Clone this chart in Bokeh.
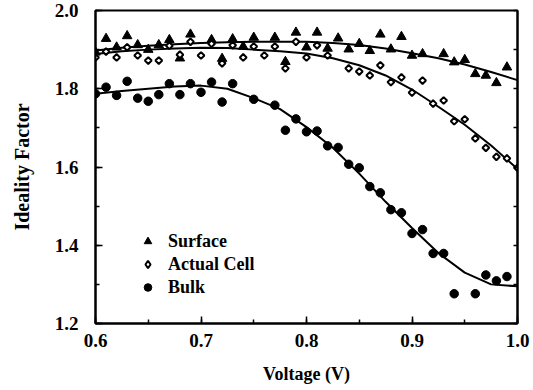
from bokeh.plotting import figure
from bokeh.models import (LinearAxis, Range1d, Legend, LegendItem,
                          SingleIntervalTicker, NumeralTickFormatter)
from bokeh.embed import file_html
from bokeh.resources import INLINE

# ---- data ----
surf_x = [0.600, 0.610, 0.620, 0.630, 0.640, 0.650, 0.660, 0.670, 0.680, 0.690,
          0.710, 0.720, 0.730, 0.740, 0.750, 0.770, 0.780, 0.790, 0.800, 0.810,
          0.820, 0.830, 0.840, 0.850, 0.860, 0.870, 0.880, 0.890, 0.900, 0.910,
          0.930, 0.940, 0.950, 0.960, 0.970, 0.980, 0.990]
surf_y = [1.893, 1.928, 1.906, 1.935, 1.912, 1.900, 1.912, 1.925, 1.878, 1.939,
          1.925, 1.877, 1.927, 1.908, 1.931, 1.931, 1.869, 1.944, 1.906, 1.944,
          1.903, 1.929, 1.901, 1.915, 1.897, 1.939, 1.901, 1.933, 1.885, 1.889,
          1.889, 1.868, 1.874, 1.838, 1.834, 1.815, 1.855]

act_x = [0.600, 0.610, 0.620, 0.630, 0.640, 0.650, 0.660, 0.670, 0.680, 0.690,
         0.700, 0.710, 0.720, 0.730, 0.740, 0.750, 0.760, 0.770, 0.780, 0.790,
         0.800, 0.810, 0.820, 0.840, 0.850, 0.860, 0.870, 0.880, 0.890, 0.900,
         0.910, 0.920, 0.930, 0.940, 0.950, 0.960, 0.970, 0.980, 0.990, 1.000]
act_y = [1.880, 1.895, 1.880, 1.906, 1.885, 1.872, 1.872, 1.910, 1.887, 1.920,
         1.885, 1.915, 1.865, 1.911, 1.880, 1.908, 1.885, 1.908, 1.852, 1.920,
         1.880, 1.911, 1.885, 1.852, 1.844, 1.834, 1.860, 1.817, 1.829, 1.790,
         1.821, 1.762, 1.770, 1.717, 1.722, 1.673, 1.649, 1.626, 1.622, 1.598]

bulk_x = [0.600, 0.610, 0.620, 0.630, 0.640, 0.650, 0.660, 0.670, 0.680, 0.690,
          0.700, 0.710, 0.720, 0.730, 0.750, 0.770, 0.780, 0.790, 0.800, 0.810,
          0.820, 0.830, 0.840, 0.850, 0.860, 0.870, 0.880, 0.890, 0.900, 0.910,
          0.920, 0.930, 0.940, 0.960, 0.970, 0.980, 0.990]
bulk_y = [1.787, 1.804, 1.783, 1.819, 1.776, 1.768, 1.785, 1.813, 1.785, 1.813,
          1.791, 1.817, 1.766, 1.813, 1.773, 1.758, 1.694, 1.723, 1.690, 1.692,
          1.654, 1.650, 1.607, 1.598, 1.550, 1.534, 1.491, 1.483, 1.430, 1.440,
          1.379, 1.379, 1.276, 1.276, 1.324, 1.309, 1.320]

fit_x = [0.600, 0.625, 0.650, 0.675, 0.700, 0.725, 0.750, 0.775, 0.800,
         0.825, 0.850, 0.875, 0.900, 0.925, 0.950, 0.975, 1.000]
surf_fit = [1.898, 1.905, 1.910, 1.914, 1.917, 1.919, 1.920, 1.920, 1.920,
            1.917, 1.912, 1.903, 1.891, 1.878, 1.862, 1.843, 1.822]
act_fit = [1.889, 1.896, 1.900, 1.903, 1.905, 1.904, 1.900, 1.896, 1.890,
           1.878, 1.860, 1.834, 1.798, 1.754, 1.708, 1.655, 1.595]
bulk_fit = [1.787, 1.794, 1.800, 1.806, 1.808, 1.800, 1.776, 1.748, 1.702,
            1.649, 1.583, 1.511, 1.444, 1.380, 1.330, 1.300, 1.295]

labels = ["Surface", "Actual Cell", "Bulk"]

FONT = "Liberation Serif"

p = figure(width=533, height=390, frame_width=422, frame_height=313,
           x_range=Range1d(0.6, 1.0), y_range=Range1d(1.2, 2.0),
           output_backend="svg", toolbar_location=None,
           min_border_left=95, min_border_right=16, min_border_top=10,
           min_border_bottom=67)
p.xgrid.visible = False
p.ygrid.visible = False
p.outline_line_color = "black"
p.outline_line_width = 2
p.background_fill_color = "white"
p.border_fill_color = "white"

# curves
for fy in (surf_fit, act_fit, bulk_fit):
    p.line(fit_x, fy, line_color="black", line_width=2)

# markers
tri = p.scatter(surf_x, surf_y, marker="triangle", size=9.5,
                fill_color="black", line_color="black")
p.scatter(act_x, act_y, marker="square", angle=0.7854, size=4.8,
          fill_color="white", line_color="black", line_width=2)
circ = p.scatter(bulk_x, bulk_y, marker="circle", size=8.5,
                 fill_color="black", line_color="black")
# legend proxy for the diamond (zero-size marks at the data)
dia_leg = p.scatter(act_x, act_y, marker="diamond", size=0,
                    fill_color="white", line_color="black", line_width=2)

# axes
xax = p.xaxis[0]
xax.ticker = SingleIntervalTicker(interval=0.1, num_minor_ticks=2)
xax.formatter = NumeralTickFormatter(format="0.0")
yax = p.yaxis[0]
yax.ticker = SingleIntervalTicker(interval=0.2, num_minor_ticks=2)
yax.formatter = NumeralTickFormatter(format="0.0")
for ax in (xax, yax):
    ax.axis_line_width = 2
    ax.major_tick_in = 7
    ax.major_tick_out = 0
    ax.minor_tick_in = 4
    ax.minor_tick_out = 0
    ax.major_tick_line_width = 1.5
    ax.minor_tick_line_width = 1.5
    ax.major_label_text_font = FONT
    ax.major_label_text_font_style = "bold"
    ax.major_label_text_font_size = "19px"
    ax.major_label_text_color = "black"
    ax.axis_label_text_font = FONT
    ax.axis_label_text_font_style = "bold"
    ax.axis_label_text_color = "black"
xax.axis_label = "Voltage (V)"
xax.axis_label_text_font_size = "18px"
xax.major_label_standoff = 10
xax.axis_label_standoff = 14
yax.axis_label = "Ideality Factor"
yax.axis_label_text_font_size = "20px"
yax.major_label_standoff = 17
yax.axis_label_standoff = 19

rax = LinearAxis(ticker=SingleIntervalTicker(interval=0.1, num_minor_ticks=0),
                 major_tick_in=4, major_tick_out=0, minor_tick_in=0,
                 minor_tick_out=0, axis_line_width=2,
                 major_tick_line_width=1.5,
                 major_label_text_font_size="1px",
                 major_label_text_color=None, major_label_standoff=0)
p.add_layout(rax, "right")

legend = Legend(items=[LegendItem(label=labels[0], renderers=[tri]),
                       LegendItem(label=labels[1], renderers=[dia_leg]),
                       LegendItem(label=labels[2], renderers=[circ])],
                location=(43, 25), glyph_width=19, glyph_height=22,
                label_standoff=11, spacing=1, padding=0, margin=0,
                border_line_color=None, background_fill_alpha=0,
                label_text_font=FONT, label_text_font_style="bold",
                label_text_font_size="18px", label_text_color="black")
p.add_layout(legend)

open("out.html", "w").write(file_html(p, INLINE))
